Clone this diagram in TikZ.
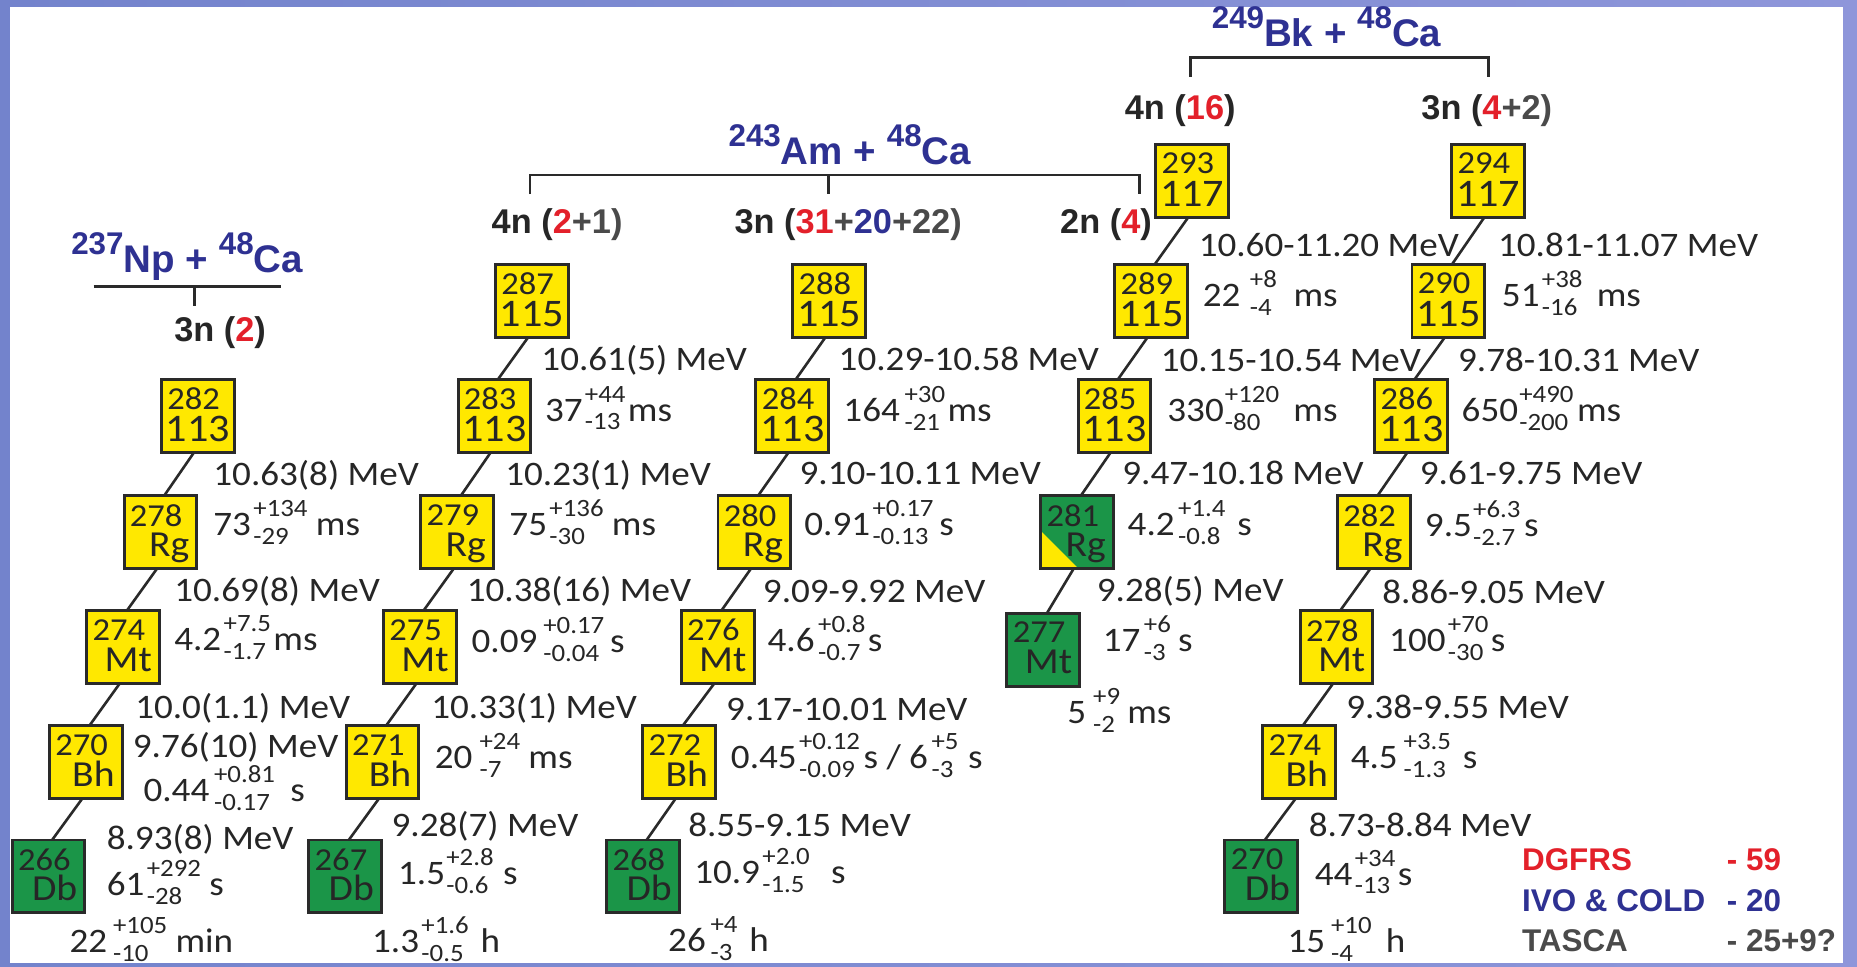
\documentclass[tikz,border=0pt]{standalone}
\usepackage{fontspec}
\setmainfont{Carlito}
\newfontfamily\lblfont{Carlito}[FakeStretch=1.08]
\newfontfamily\headfont{Liberation Sans}
\usetikzlibrary{calc}

\definecolor{nyel}{HTML}{FFE800}
\definecolor{ngrn}{HTML}{1B9548}
\definecolor{bord}{HTML}{2A2A2A}
\definecolor{ink}{HTML}{262626}
\definecolor{hred}{HTML}{E3202A}
\definecolor{hblue}{HTML}{2E3192}
\definecolor{hgray}{HTML}{4A4A4A}
\definecolor{frameL}{HTML}{7383CC}
\definecolor{frameR}{HTML}{8E96DA}

% half-life with asymmetric errors: value, gap, upper, lower, gap, unit
\newcommand\hlife[6]{#1\hspace{#2pt}\raisebox{-7.5pt}{\fontsize{21}{23.5}\selectfont\begin{tabular}[b]{@{}l@{}}#3\\#4\end{tabular}}\hspace{#5pt}#6}
% reaction: target mass, target, projectile mass, projectile
\newcommand\reac[4]{\raisebox{15.5pt}{\fontsize{26.5}{26.5}\selectfont #1}#2 + \raisebox{15.5pt}{\fontsize{26.5}{26.5}\selectfont #3}#4}
% lower line of a nuclide box: atomic number or element symbol
\newcommand\zsym[1]{\smash{\lblfont\fontsize{33}{33}\selectfont #1}\hspace*{3.5pt}\par\vspace*{8.75pt}}
\newcommand\esym[1]{\smash{\lblfont\fontsize{31}{31}\selectfont #1}\hspace*{6.5pt}\par\vspace*{10.5pt}}
% nuclide box contents: mass number on top, symbol line below
\newcommand\isotext[2]{\parbox[c][61.5pt][t]{61.5pt}{\vspace*{7.25pt}\hspace*{5pt}{\lblfont\fontsize{27}{27}\selectfont #1}\par\vfill\hfill #2}}
% nuclide box: name, x, y, mass, symbol line, box style
\newcommand\isobox[6]{%
  \node[nucbox,#6] (#1) at (#2+1.25,#3+1.25) {\isotext{#4}{#5}};
}

\begin{document}
\begin{tikzpicture}[x=1pt,y=-1pt,
  nucbox/.style={rectangle,draw=bord,line width=2.5pt,minimum width=61.5pt,minimum height=61.5pt,
    inner sep=0pt,outer sep=0pt,anchor=north west,text=ink},
  yel/.style={fill=nyel},
  grn/.style={fill=ngrn},
  halfbox/.style={fill=ngrn,path picture={
    \fill[nyel] ($(path picture bounding box.south west)!0.52!(path picture bounding box.north west)$)
      -- (path picture bounding box.south west)
      -- ($(path picture bounding box.south west)!0.52!(path picture bounding box.south east)$) -- cycle;}},
  link/.style={draw=bord,line width=2.2pt},
  brk/.style={draw=bord,line width=2.2pt},
  lbl/.style={anchor=base west,inner sep=0pt,text=ink,font=\lblfont\fontsize{29}{30}\selectfont},
  head/.style={anchor=base west,inner sep=0pt,text=ink,font=\headfont\bfseries\fontsize{29}{30}\selectfont},
  reacn/.style={anchor=base west,inner sep=0pt,text=hblue,font=\headfont\bfseries\fontsize{32.5}{33}\selectfont},
  legn/.style={anchor=base west,inner sep=0pt,font=\headfont\bfseries\fontsize{26.5}{27}\selectfont},
]
\useasboundingbox (0,0) rectangle (1568,816);

% frame
\shade[left color=frameL,right color=frameR] (0,0) rectangle (1568,816);
\fill[white] (8.4,5.6) rectangle (1556,813);

% ---------- nuclide boxes ----------
% 237Np + 48Ca
\isobox{c1r2}{135}{319}{282}{\zsym{113}}{yel}
\isobox{c1r3}{103.5}{417.5}{278}{\esym{Rg}}{yel}
\isobox{c1r4}{72}{514.5}{274}{\esym{Mt}}{yel}
\isobox{c1r5}{40.5}{611.5}{270}{\esym{Bh}}{yel}
\isobox{c1r6}{9}{708}{266}{\esym{Db}}{grn}
% 243Am + 48Ca, 4n
\isobox{c2r1}{417}{222}{287}{\zsym{115}}{yel}
\isobox{c2r2}{385.5}{319}{283}{\zsym{113}}{yel}
\isobox{c2r3}{354}{417.5}{279}{\esym{Rg}}{yel}
\isobox{c2r4}{322.5}{514.5}{275}{\esym{Mt}}{yel}
\isobox{c2r5}{291}{611.5}{271}{\esym{Bh}}{yel}
\isobox{c2r6}{259.5}{708}{267}{\esym{Db}}{grn}
% 243Am + 48Ca, 3n
\isobox{c3r1}{668}{222}{288}{\zsym{115}}{yel}
\isobox{c3r2}{637}{319}{284}{\zsym{113}}{yel}
\isobox{c3r3}{605}{417.5}{280}{\esym{Rg}}{yel}
\isobox{c3r4}{574}{514.5}{276}{\esym{Mt}}{yel}
\isobox{c3r5}{541.5}{611.5}{272}{\esym{Bh}}{yel}
\isobox{c3r6}{511}{708}{268}{\esym{Db}}{grn}
% 249Bk + 48Ca, 4n
\isobox{c4r0}{974.5}{120.5}{293}{\zsym{117}}{yel}
\isobox{c4r1}{940}{222}{289}{\zsym{115}}{yel}
\isobox{c4r2}{909}{319}{285}{\zsym{113}}{yel}
\isobox{c4r3}{877.5}{417.5}{281}{\esym{Rg}}{halfbox}
\isobox{c4r4}{849}{516.5}{277}{\esym{Mt}}{grn}
% 249Bk + 48Ca, 3n
\isobox{c5r0}{1224.5}{120.5}{294}{\zsym{117}}{yel}
\isobox{c5r1}{1191}{222}{290}{\zsym{115}}{yel}
\isobox{c5r2}{1159.5}{319}{286}{\zsym{113}}{yel}
\isobox{c5r3}{1128}{417.5}{282}{\esym{Rg}}{yel}
\isobox{c5r4}{1096.5}{514.5}{278}{\esym{Mt}}{yel}
\isobox{c5r5}{1065}{611.5}{274}{\esym{Bh}}{yel}
\isobox{c5r6}{1033}{708}{270}{\esym{Db}}{grn}

% ---------- decay links ----------
\foreach \a/\b in {c1r2/c1r3,c1r3/c1r4,c1r4/c1r5,c1r5/c1r6,
                   c2r1/c2r2,c2r2/c2r3,c2r3/c2r4,c2r4/c2r5,c2r5/c2r6,
                   c3r1/c3r2,c3r2/c3r3,c3r3/c3r4,c3r4/c3r5,c3r5/c3r6,
                   c4r0/c4r1,c4r1/c4r2,c4r2/c4r3,c4r3/c4r4,
                   c5r0/c5r1,c5r1/c5r2,c5r2/c5r3,c5r3/c5r4,c5r4/c5r5,c5r5/c5r6}
  \draw[link] ($(\a.south)+(-3,0)$) -- ($(\b.north)+(3,0)$);

% ---------- reactions and channels ----------
\node[reacn] (rNp) at (60,230.5) {\reac{237}{Np}{48}{Ca}};
\coordinate (bNpL) at (79,242);
\coordinate (bNpR) at (237,242);
\coordinate (bNpM) at (164,242);
\coordinate (bNpT) at (164,258);
\draw[brk] (bNpL) -- (bNpR);
\draw[brk] (bNpM) -- (bNpT);
\node[head] (chNp) at (147,288.5) {3n (\textcolor{hred}{2})};

\node[reacn] (rAm) at (615,139.3) {\reac{243}{Am}{48}{Ca}};
\coordinate (bAmL) at (447.6,164);
\coordinate (bAmLt) at (447.6,147.8);
\coordinate (bAmRt) at (962.4,147.8);
\coordinate (bAmR) at (962.4,164);
\coordinate (bAmM) at (699.6,147.8);
\coordinate (bAmMb) at (699.6,164);
\draw[brk] (bAmL) -- (bAmLt) -- (bAmRt) -- (bAmR);
\draw[brk] (bAmM) -- (bAmMb);
\node[head] (chAm4) at (415,197) {4n (\textcolor{hred}{2}\textcolor{hgray}{+1)}};
\node[head] (chAm3) at (620,197) {3n (\textcolor{hred}{31}\textcolor{hgray}{+}\textcolor{hblue}{20}\textcolor{hgray}{+22)}};
\node[head] (chAm2) at (895,197) {2n (\textcolor{hred}{4})};

\node[reacn] (rBk) at (1023,39.4) {\reac{249}{Bk}{48}{Ca}};
\coordinate (bBkL) at (1005,64.7);
\coordinate (bBkLt) at (1005,48.4);
\coordinate (bBkRt) at (1257,48.4);
\coordinate (bBkR) at (1257,64.7);
\draw[brk] (bBkL) -- (bBkLt) -- (bBkRt) -- (bBkR);
\node[head] (chBk4) at (949.6,101) {4n (\textcolor{hred}{16})};
\node[head] (chBk3) at (1200,101) {3n (\textcolor{hred}{4}\textcolor{hgray}{+2)}};

% ---------- decay energies and half-lives ----------
% column 1
\node[lbl] (l1a) at (180,410) {10.63(8) MeV};
\node[lbl] (l1b) at (180,452) {\hlife{73}{2}{+134}{-29}{7}{ms}};
\node[lbl] (l1c) at (147,508) {10.69(8) MeV};
\node[lbl] (l1d) at (147,549) {\hlife{4.2}{2}{+7.5}{-1.7}{2}{ms}};
\node[lbl] (l1e) at (114,607) {10.0(1.1) MeV};
\node[lbl] (l1f) at (112,640) {9.76(10) MeV};
\node[lbl] (l1g) at (121,677) {\hlife{0.44}{4}{+0.81}{-0.17}{13}{s}};
\node[lbl] (l1h) at (90,717) {8.93(8) MeV};
\node[lbl] (l1i) at (90,756) {\hlife{61}{2}{+292}{-28}{7}{s}};
\node[lbl] (l1j) at (58.5,804) {\hlife{22}{5}{+105}{-10}{7}{min}};
% column 2
\node[lbl] (l2a) at (457,313) {10.61(5) MeV};
\node[lbl] (l2b) at (460,355.5) {\hlife{37}{2}{+44}{-13}{2}{ms}};
\node[lbl] (l2c) at (426.5,410) {10.23(1) MeV};
\node[lbl] (l2d) at (430,452) {\hlife{75}{2}{+136}{-30}{7}{ms}};
\node[lbl] (l2e) at (394,508) {10.38(16) MeV};
\node[lbl] (l2f) at (398,551) {\hlife{0.09}{5}{+0.17}{-0.04}{5}{s}};
\node[lbl] (l2g) at (364,607) {10.33(1) MeV};
\node[lbl] (l2h) at (367,649) {\hlife{20}{6}{+24}{-7}{7}{ms}};
\node[lbl] (l2i) at (330.5,706) {9.28(7) MeV};
\node[lbl] (l2j) at (336,747) {\hlife{1.5}{1}{+2.8}{-0.6}{8}{s}};
\node[lbl] (l2k) at (314,804) {\hlife{1.3}{2}{+1.6}{-0.5}{10}{h}};
% column 3
\node[lbl] (l3a) at (708,313) {10.29-10.58 MeV};
\node[lbl] (l3b) at (712,356) {\hlife{164}{4}{+30}{-21}{2}{ms}};
\node[lbl] (l3c) at (675,409.5) {9.10-10.11 MeV};
\node[lbl] (l3d) at (679,452) {\hlife{0.91}{2}{+0.17}{-0.13}{5}{s}};
\node[lbl] (l3e) at (644,509) {9.09-9.92 MeV};
\node[lbl] (l3f) at (648,550) {\hlife{4.6}{3}{+0.8}{-0.7}{2}{s}};
\node[lbl] (l3g) at (613,608) {9.17-10.01 MeV};
\node[lbl] (l3h) at (617,649) {\hlife{0.45}{2}{+0.12}{-0.09}{3}{s / \hlife{6}{3}{+5}{-3}{8}{s}}};
\node[lbl] (l3i) at (581,706.5) {8.55-9.15 MeV};
\node[lbl] (l3j) at (586,746) {\hlife{10.9}{2}{+2.0}{-1.5}{18}{s}};
\node[lbl] (l3k) at (564,803.6) {\hlife{26}{4}{+4}{-3}{10}{h}};
% column 4
\node[lbl] (l4a) at (1012,216.5) {10.60-11.20 MeV};
\node[lbl] (l4b) at (1015.5,259) {\hlife{22}{8}{+8}{-4}{14}{ms}};
\node[lbl] (l4c) at (980,313.8) {10.15-10.54 MeV};
\node[lbl] (l4d) at (985.5,356) {\hlife{330}{1}{+120}{-80}{12}{ms}};
\node[lbl] (l4e) at (947.5,409.5) {9.47-10.18 MeV};
\node[lbl] (l4f) at (952,452) {\hlife{4.2}{3}{+1.4}{-0.8}{10}{s}};
\node[lbl] (l4g) at (926,508) {9.28(5) MeV};
\node[lbl] (l4h) at (931,550) {\hlife{17}{3}{+6}{-3}{6}{s}};
\node[lbl] (l4i) at (901,610.8) {\hlife{5}{6}{+9}{-2}{6}{ms}};
% column 5
\node[lbl] (l5a) at (1264.7,216.5) {10.81-11.07 MeV};
\node[lbl] (l5b) at (1268,259) {\hlife{51}{2}{+38}{-16}{12}{ms}};
\node[lbl] (l5c) at (1231,313.8) {9.78-10.31 MeV};
\node[lbl] (l5d) at (1234,356) {\hlife{650}{1}{+490}{-200}{3}{ms}};
\node[lbl] (l5e) at (1198.7,409.5) {9.61-9.75 MeV};
\node[lbl] (l5f) at (1203,453) {\hlife{9.5}{1}{+6.3}{-2.7}{3}{s}};
\node[lbl] (l5g) at (1167,509.4) {8.86-9.05 MeV};
\node[lbl] (l5h) at (1172.8,550.3) {\hlife{100}{2}{+70}{-30}{2}{s}};
\node[lbl] (l5i) at (1136.6,606.5) {9.38-9.55 MeV};
\node[lbl] (l5j) at (1140.4,648.8) {\hlife{4.5}{5}{+3.5}{-1.3}{10}{s}};
\node[lbl] (l5k) at (1105,706.5) {8.73-8.84 MeV};
\node[lbl] (l5l) at (1110,747.3) {\hlife{44}{2}{+34}{-13}{2}{s}};
\node[lbl] (l5m) at (1087,804) {\hlife{15}{5}{+10}{-4}{12}{h}};

% ---------- legend ----------
\node[legn,text=hred]  (g1) at (1285,735) {DGFRS};
\node[legn,text=hred]  (g1n) at (1458,735) {- 59};
\node[legn,text=hblue] (g2) at (1285,769.8) {IVO \& COLD};
\node[legn,text=hblue] (g2n) at (1458,769.8) {- 20};
\node[legn,text=hgray] (g3) at (1285,803.6) {TASCA};
\node[legn,text=hgray] (g3n) at (1458,803.6) {- 25+9?};
\end{tikzpicture}
\end{document}
